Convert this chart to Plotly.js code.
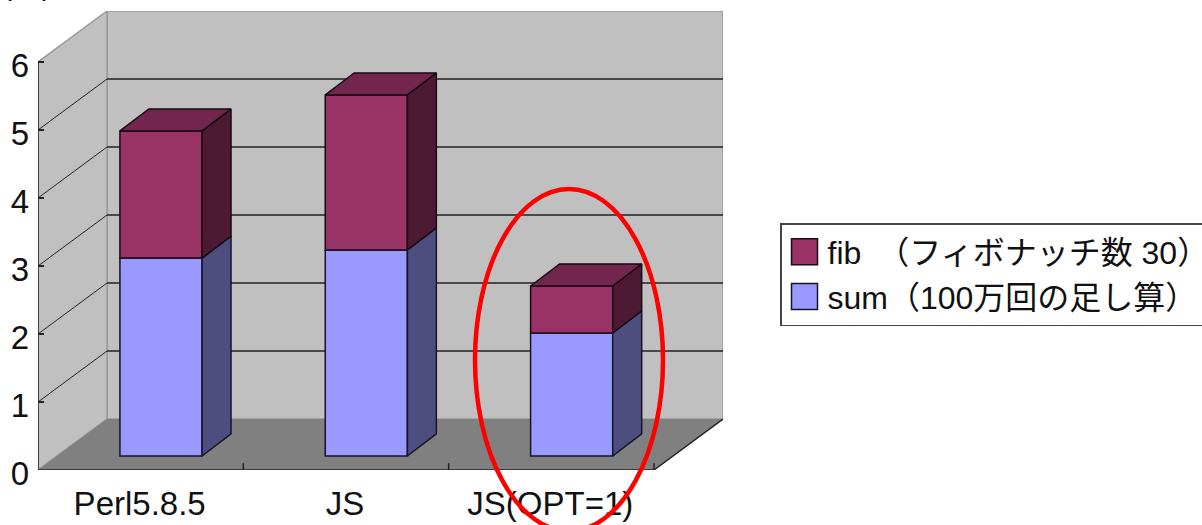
<!DOCTYPE html>
<html>
<head>
<meta charset="utf-8">
<script src="https://cdn.plot.ly/plotly-3.0.1.min.js"></script>
<style>html,body{margin:0;padding:0;background:#fff;overflow:hidden}</style>
</head>
<body>
<div id="chart" style="width:1202px;height:525px"></div>
<script>
const categories = ['Perl5.8.5', 'JS', 'JS(OPT=1)'];
const sumValues = [2.91, 3.03, 1.81];
const fibValues = [1.87, 2.28, 0.69];
const yTicks = [0, 1, 2, 3, 4, 5, 6];
const seriesNames = ['sum（100万回の足し算）', 'fib　（フィボナッチ数 30）'];
const unit = '(秒)';

const FONT = '"Liberation Sans","Noto Sans CJK JP",sans-serif';
const TXT = '#111111';
// projection of the 3D box, in axis units
const L = 38, T = 11, PW = 685, PH = 459;
const depthX = 69 / 205.33, depthY = 51 / 68;
const xMax = 3 + depthX, yMax = 6 + depthY;
const barW = 0.4, barDx = 0.141, barDy = 0.324;
const frontX = 0.399, frontY = 0.206;

const barX = categories.map((c, i) => i + frontX + barW / 2);
const px = v => (v - L) / PW;
const py = v => (T + PH - v) / PH;

function polys(list) {
  const xs = [], ys = [];
  list.forEach(p => { p.forEach(q => { xs.push(q[0]); ys.push(q[1]); }); xs.push(null); ys.push(null); });
  return { x: xs, y: ys };
}
function sideFace(i, lo, hi) {
  const r = i + frontX + barW;
  return [[r, lo], [r + barDx, lo + barDy], [r + barDx, hi + barDy], [r, hi], [r, lo]];
}
function topFace(i, h) {
  const l = i + frontX, r = l + barW;
  return [[l, h], [r, h], [r + barDx, h + barDy], [l + barDx, h + barDy], [l, h]];
}
const sumTop = sumValues.map(v => v + frontY);
const allTop = sumValues.map((v, i) => v + fibValues[i] + frontY);

const edge = { color: '#14142a', width: 1.5 };
const edgeFib = { color: '#1a0a14', width: 1.5 };
const traces = [
  { type: 'bar', name: seriesNames[0], x: barX, y: sumValues, base: categories.map(() => frontY), width: barW,
    marker: { color: '#9999FF', line: edge }, hoverinfo: 'skip' },
  { type: 'bar', name: seriesNames[1], x: barX, y: fibValues, base: sumTop, width: barW,
    marker: { color: '#993366', line: edgeFib }, hoverinfo: 'skip' },
  Object.assign({ type: 'scatter', mode: 'lines', fill: 'toself', fillcolor: '#4D4D80', line: edge, showlegend: false, hoverinfo: 'skip' },
    polys(categories.map((c, i) => sideFace(i, frontY, sumTop[i])))),
  Object.assign({ type: 'scatter', mode: 'lines', fill: 'toself', fillcolor: '#4D1A33', line: edgeFib, showlegend: false, hoverinfo: 'skip' },
    polys(categories.map((c, i) => sideFace(i, sumTop[i], allTop[i])))),
  Object.assign({ type: 'scatter', mode: 'lines', fill: 'toself', fillcolor: '#73264D', line: edgeFib, showlegend: false, hoverinfo: 'skip' },
    polys(categories.map((c, i) => topFace(i, allTop[i])))),
  // front axes and category separators
  { type: 'scatter', mode: 'lines', cliponaxis: false, showlegend: false, hoverinfo: 'skip',
    line: { color: '#222222', width: 1.5 },
    x: [0, 0, 3, null, 1, 1, null, 2, 2, null, 3, 3, null, 3, xMax],
    y: [6, 0, 0, null, 0, 0.1, null, 0, 0.1, null, 0, 0.1, null, 0, depthY] }
];

const shapes = [
  { type: 'path', layer: 'below', xref: 'x', yref: 'y', fillcolor: '#C0C0C0', line: { color: '#999999', width: 1.5 },
    path: `M${depthX},${depthY}L${xMax},${depthY}L${xMax},${yMax}L${depthX},${yMax}Z` },
  { type: 'path', layer: 'below', xref: 'x', yref: 'y', fillcolor: '#C0C0C0', line: { color: '#999999', width: 1.5 },
    path: `M0,0L${depthX},${depthY}L${depthX},${yMax}L0,6Z` },
  { type: 'path', layer: 'below', xref: 'x', yref: 'y', fillcolor: '#808080', line: { width: 0 },
    path: `M0,0L3,0L${xMax},${depthY}L${depthX},${depthY}Z` }
];
yTicks.slice(1, -1).forEach(v => {
  shapes.push({ type: 'line', layer: 'below', xref: 'x', yref: 'y', x0: 0, y0: v, x1: depthX, y1: v + depthY,
    line: { color: '#222222', width: 1 } });
  shapes.push({ type: 'line', layer: 'below', xref: 'x', yref: 'y', x0: depthX, y0: v + depthY, x1: xMax, y1: v + depthY,
    line: { color: '#222222', width: 1.5 } });
});
// red highlight ellipse
shapes.push({ type: 'circle', layer: 'above', xref: 'paper', yref: 'paper',
  x0: px(475), x1: px(663), y0: py(189), y1: py(531), line: { color: '#FF0000', width: 4.5 } });

const layout = {
  width: 1202, height: 525,
  margin: { l: L, r: 1202 - L - PW, t: T, b: 525 - T - PH, autoexpand: false, pad: 0 },
  paper_bgcolor: '#FFFFFF', plot_bgcolor: '#FFFFFF',
  barmode: 'overlay',
  font: { family: FONT, color: TXT, size: 32 },
  xaxis: { range: [0, xMax], tickmode: 'array', tickvals: categories.map((c, i) => i + 0.5), ticktext: categories,
    showgrid: false, zeroline: false, showline: false, ticks: '', ticklabelstandoff: 11, ticklabelshift: -1, tickfont: { size: 33, family: FONT, color: TXT } },
  yaxis: { range: [0, yMax], tickmode: 'array', tickvals: yTicks, ticktext: yTicks.map(String),
    showgrid: false, zeroline: false, showline: false, ticks: 'inside', ticklen: 6, tickwidth: 1.5, tickcolor: '#222222',
    ticklabelstandoff: 8, ticklabelshift: 3, tickfont: { size: 33, family: FONT, color: TXT } },
  showlegend: true,
  legend: { x: px(780), y: py(223), xanchor: 'left', yanchor: 'top', bgcolor: '#FFFFFF', bordercolor: '#444444', borderwidth: 1.5,
    itemwidth: 36, itemclick: false, itemdoubleclick: false, font: { size: 32, family: FONT, color: TXT }, traceorder: 'reversed' },
  shapes: shapes,
  annotations: [{ xref: 'paper', yref: 'paper', x: px(0), y: py(3), xanchor: 'left', yanchor: 'bottom', showarrow: false,
    text: unit, font: { size: 30, family: FONT, color: TXT } }]
};

Plotly.newPlot('chart', traces, layout, { displayModeBar: false }).then(() => {
  document.querySelectorAll('.legendpoints path').forEach(p => p.setAttribute('d', 'M13,13H-13V-13H13Z'));
});
</script>
</body>
</html>
